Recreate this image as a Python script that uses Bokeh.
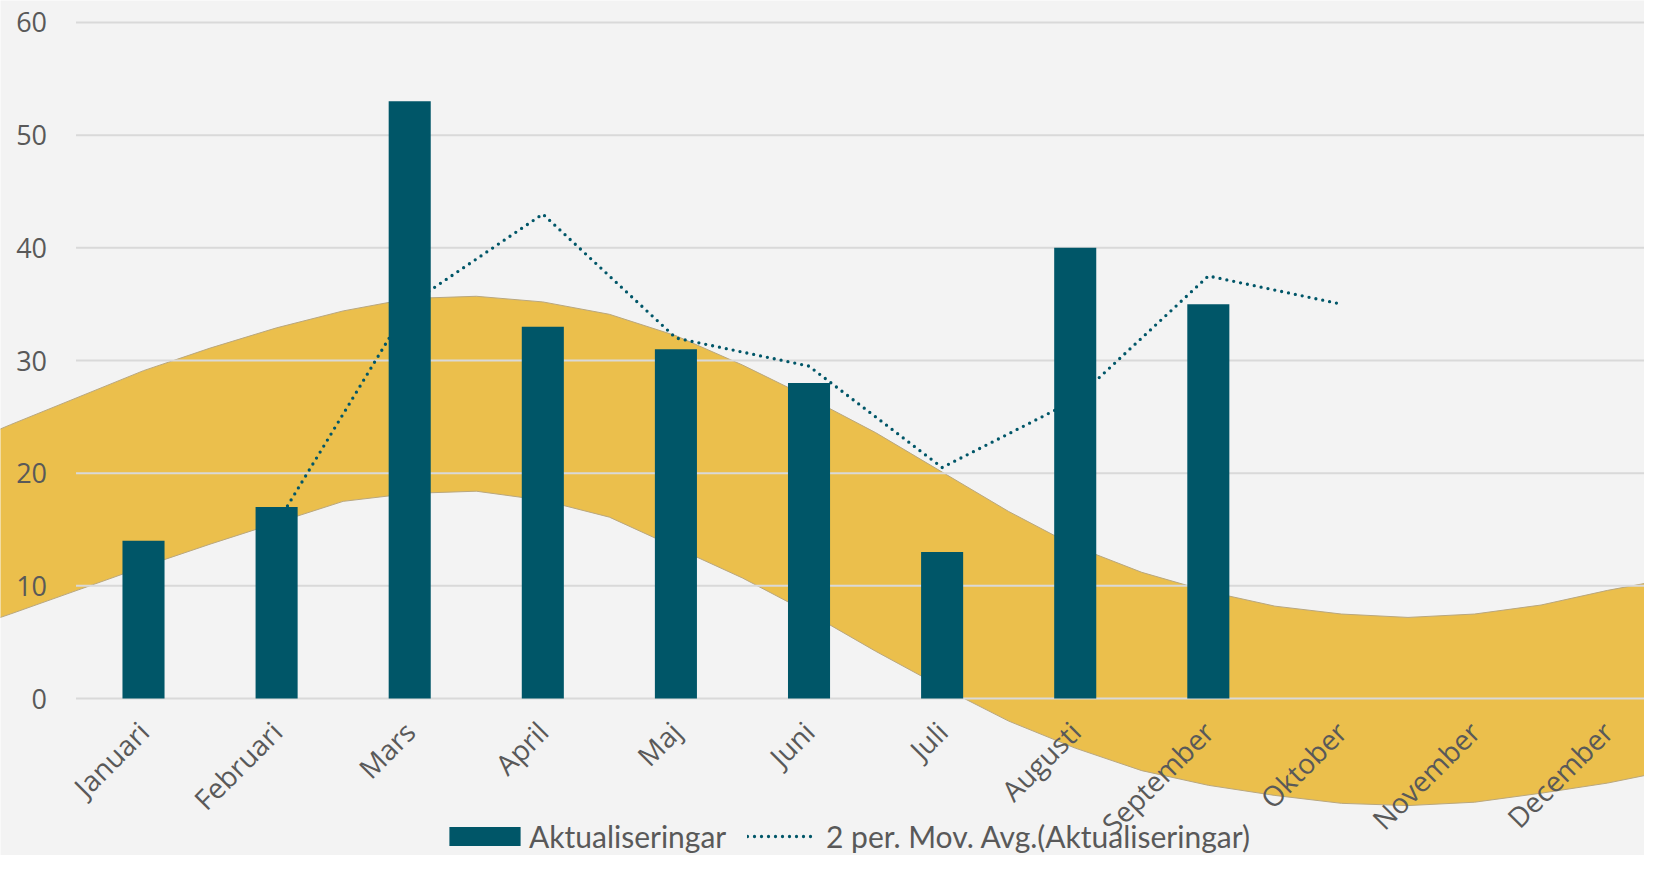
import math
from bokeh.plotting import figure
from bokeh.models import Range1d, LinearAxis, FixedTicker, Legend, LegendItem
from bokeh.embed import file_html
from bokeh.resources import INLINE

# ---- data ----
months = ["Januari", "Februari", "Mars", "April", "Maj", "Juni", "Juli",
          "Augusti", "September", "Oktober", "November", "December"]
aktualiseringar = [14, 17, 53, 33, 31, 28, 13, 40, 35]
mov_avg_months = ["Februari", "Mars", "April", "Maj", "Juni", "Juli",
                  "Augusti", "September", "Oktober"]
mov_avg = [15.5, 35, 43, 32, 29.5, 20.5, 26.5, 37.5, 35]
y_ticks = [0, 10, 20, 30, 40, 50, 60]

# decorative ribbon behind the chart (month index position, lower / upper value)
band_x = [-1.1, -1.0, -0.5, 0.0, 0.5, 1.0, 1.5, 2.0, 2.5, 3.0, 3.5, 4.0, 4.5,
          5.0, 5.5, 6.0, 6.5, 7.0, 7.5, 8.0, 8.5, 9.0, 9.5, 10.0, 10.5, 11.0, 11.5]
band_upper = [23.8, 24.3, 26.7, 29.1, 31.1, 32.9, 34.4, 35.5, 35.7, 35.2, 34.1,
              32.2, 29.6, 26.7, 23.6, 20.1, 16.6, 13.5, 11.2, 9.5, 8.2, 7.5,
              7.2, 7.5, 8.3, 9.6, 10.7]
band_lower = [7.1, 7.5, 9.6, 11.7, 13.7, 15.6, 17.5, 18.2, 18.4, 17.6, 16.1,
              13.4, 10.7, 7.6, 4.2, 1.0, -2.0, -4.4, -6.4, -7.7, -8.6, -9.3,
              -9.5, -9.2, -8.4, -7.5, -6.3]

# ---- styles ----
BG = "#F3F3F3"
TEAL = "#005668"
GOLD = "#EBBF4C"
TXT = "#595959"

bar_x = [months.index(m) for m in months[:len(aktualiseringar)]]
ma_x = [months.index(m) for m in mov_avg_months]

p = figure(width=1644, height=855,
           x_range=Range1d(-1.0744, 11.277), y_range=Range1d(-13.93, 61.95),
           output_backend="svg", toolbar_location=None,
           x_axis_type=None, y_axis_type=None,
           min_border=0, min_border_left=0, min_border_right=0,
           min_border_top=0, min_border_bottom=0)
p.background_fill_color = BG
p.border_fill_color = BG
p.outline_line_color = None

# ribbon
p.varea(x=band_x, y1=band_lower, y2=band_upper, fill_color=GOLD)
p.line(x=band_x, y=band_upper, line_color="#B9A77E", line_width=1)
p.line(x=band_x, y=band_lower, line_color="#B9A77E", line_width=1)

# gridlines (start at the category area, like the original)
p.segment(x0=-0.507, x1=11.6, y0=y_ticks, y1=y_ticks,
          line_color="#D9D9D9", line_width=2)

# moving average (behind the bars)
ma = p.line(x=ma_x, y=mov_avg, line_color=TEAL, line_width=3.3,
            line_dash="0 7", line_cap="round")

bars = p.vbar(x=bar_x, top=aktualiseringar, bottom=0, width=0.316,
              fill_color=TEAL, line_color=None)

# axes
yaxis = LinearAxis(ticker=FixedTicker(ticks=y_ticks, minor_ticks=[]),
                   fixed_location=-0.507,
                   axis_line_color=None, major_tick_line_color=None,
                   minor_tick_line_color=None, major_tick_in=0, major_tick_out=0,
                   major_label_standoff=29,
                   major_label_text_font="Open Sans",
                   major_label_text_font_size="27px",
                   major_label_text_color=TXT)
p.add_layout(yaxis, "left")

xaxis = LinearAxis(ticker=FixedTicker(ticks=list(range(len(months))), minor_ticks=[]),
                   major_label_overrides={i: m for i, m in enumerate(months)},
                   fixed_location=0,
                   axis_line_color=None, major_tick_line_color=None,
                   minor_tick_line_color=None, major_tick_in=0, major_tick_out=0,
                   major_label_standoff=28,
                   major_label_orientation=math.pi / 4,
                   major_label_text_font="Open Sans",
                   major_label_text_font_size="28px",
                   major_label_text_color=TXT)
p.add_layout(xaxis, "below")

legend_style = dict(orientation="horizontal", padding=0, margin=0, spacing=0,
                    label_text_font="Lato", label_text_font_size="30px",
                    label_text_color=TXT, background_fill_alpha=0,
                    border_line_color=None)
legend_bars = Legend(items=[LegendItem(label="Aktualiseringar", renderers=[bars])],
                     location=(440, 1), glyph_width=89, glyph_height=24,
                     label_standoff=0, **legend_style)
legend_ma = Legend(items=[LegendItem(label="2 per. Mov. Avg.(Aktualiseringar)", renderers=[ma])],
                   location=(747, 1), glyph_width=69, glyph_height=24,
                   label_standoff=10, **legend_style)
p.add_layout(legend_bars)
p.add_layout(legend_ma)

open("out.html", "w").write(file_html(p, INLINE))
